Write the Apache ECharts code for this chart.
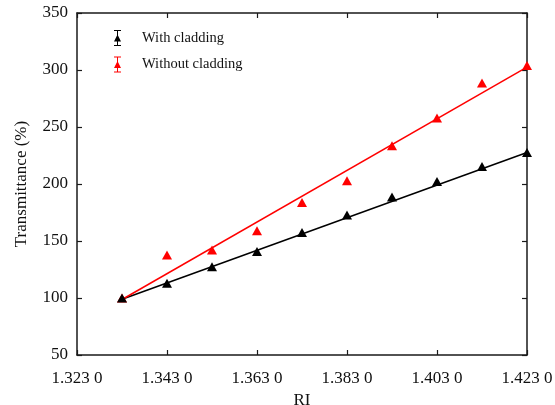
<!DOCTYPE html>
<html>
<head>
<meta charset="utf-8">
<script src="https://cdn.jsdelivr.net/npm/echarts@6/dist/echarts.min.js"></script>
<style>
  html, body { margin: 0; padding: 0; background: #fff; }
  #chart { width: 555px; height: 405px; }
</style>
</head>
<body>
<div id="chart"></div>
<script>
// Refractive index of the surrounding liquid
const riValues = [1.333, 1.343, 1.353, 1.363, 1.373, 1.383, 1.393, 1.403, 1.413, 1.423];
// Normalised transmittance (%)
const withCladding = [100, 112.9, 127.5, 140.7, 157.4, 172.9, 188.5, 202.2, 215.3, 227.6];
const withoutCladding = [100, 137.8, 142.2, 159.1, 183.7, 202.8, 233.5, 257.8, 288.5, 304];
// Linear fits: value at first and last RI
const fitRange = [1.333, 1.423];
const fitWith = [98.9, 227.6];
const fitWithout = [98.7, 302.5];
// Axis tick labels
const xTickLabels = ['1.323 0', '1.343 0', '1.363 0', '1.383 0', '1.403 0', '1.423 0'];
const seriesNames = ['With cladding', 'Without cladding'];

const font = '"Liberation Serif", "Times New Roman", serif';
const axisColor = '#1a1a1a';
const xMin = 1.323, xMax = 1.423, xStep = 0.02;

// Legend glyph: small triangle on an error bar with caps
const errIcon = 'path://M0,0H7V1H4V15H7V16H0V15H3V1H0Z M3.5,4.5L7,11.5L0,11.5Z';

const pairs = (xs, ys) => xs.map((x, i) => [x, ys[i]]);

const xFmt = v => {
  const k = Math.round((v - xMin) / xStep);
  return xTickLabels[k] !== undefined ? xTickLabels[k] : '';
};

const baseAxis = {
  axisLine: { show: true, lineStyle: { color: axisColor, width: 1.5 } },
  axisTick: { show: true, inside: true, length: 5, lineStyle: { color: axisColor, width: 1.2 } },
  splitLine: { show: false }
};

const chart = echarts.init(document.getElementById('chart'));
chart.setOption({
  animation: false,
  backgroundColor: '#fff',
  grid: { left: 77, right: 28, top: 13, bottom: 50, containLabel: false, outerBoundsMode: 'none' },
  legend: {
    left: 109, top: 25, orient: 'vertical',
    itemWidth: 7, itemHeight: 16, itemGap: 10.5,
    textStyle: { fontFamily: font, fontSize: 14.5, color: '#111', padding: [0, 0, 0, 16] },
    data: [
      { name: seriesNames[0], icon: errIcon, itemStyle: { color: '#000' } },
      { name: seriesNames[1], icon: errIcon, itemStyle: { color: '#ff0000' } }
    ]
  },
  xAxis: [
    Object.assign({}, baseAxis, {
      type: 'value', min: xMin, max: xMax, interval: xStep, position: 'bottom',
      name: 'RI', nameLocation: 'middle', nameGap: 33,
      nameTextStyle: { fontFamily: font, fontSize: 17, color: '#111' },
      axisLabel: { formatter: xFmt, fontFamily: font, fontSize: 17, color: '#111', margin: 15 }
    }),
    Object.assign({}, baseAxis, {
      type: 'value', min: xMin, max: xMax, interval: xStep, position: 'top',
      axisLabel: { show: false }
    })
  ],
  yAxis: [
    Object.assign({}, baseAxis, {
      type: 'value', min: 50, max: 350, interval: 50, position: 'left',
      name: 'Transmittance (%)', nameLocation: 'middle', nameGap: 47,
      nameTextStyle: { fontFamily: font, fontSize: 17, color: '#111' },
      axisLabel: { fontFamily: font, fontSize: 17, color: '#111', margin: 9 }
    }),
    Object.assign({}, baseAxis, {
      type: 'value', min: 50, max: 350, interval: 50, position: 'right',
      axisLabel: { show: false }
    })
  ],
  series: [
    {
      name: seriesNames[0], type: 'line', data: pairs(fitRange, fitWith),
      showSymbol: false, symbol: 'none', lineStyle: { color: '#000', width: 1.5 },
      itemStyle: { color: '#000' }, z: 2, silent: true
    },
    {
      name: seriesNames[1], type: 'line', data: pairs(fitRange, fitWithout),
      showSymbol: false, symbol: 'none', lineStyle: { color: '#ff0000', width: 1.5 },
      itemStyle: { color: '#ff0000' }, z: 2, silent: true
    },
    {
      name: seriesNames[0], type: 'scatter', data: pairs(riValues, withCladding),
      symbol: 'triangle', symbolSize: [10, 9], itemStyle: { color: '#000', opacity: 1 }, z: 4
    },
    {
      name: seriesNames[1], type: 'scatter', data: pairs(riValues, withoutCladding),
      symbol: 'triangle', symbolSize: [10, 9], itemStyle: { color: '#ff0000', opacity: 1 }, z: 3
    }
  ]
});
</script>
</body>
</html>
